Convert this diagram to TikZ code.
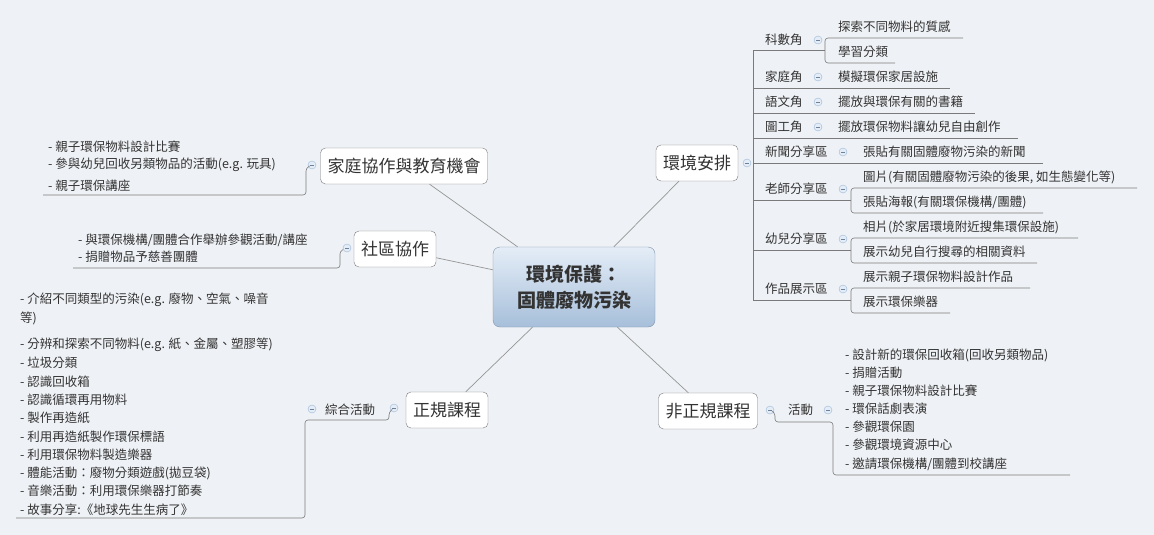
\documentclass[tikz,border=0pt]{standalone}
\usepackage{fontspec}
\setmainfont{Noto Sans CJK TC}
\definecolor{bg}{HTML}{EEF1F5}
\definecolor{ln}{HTML}{7A7A7A}
\definecolor{tx}{HTML}{333333}
\definecolor{cb}{HTML}{9DB8D6}
\definecolor{cf}{HTML}{E4EDF7}
\begin{document}
\begin{tikzpicture}[x=1pt,y=-1pt,
  lf/.style={anchor=west,inner sep=0pt,text=tx,font=\fontsize{12.5}{14}\selectfont},
  mainbox/.style={draw=ln,rounded corners=5pt,fill=white,text=tx,font=\fontsize{17}{20}\selectfont,inner xsep=7pt,minimum height=36pt},
  ul/.style={draw=ln,line width=0.6pt,rounded corners=3pt},
  br/.style={draw=ln!80,line width=0.7pt},
  circ/.style={circle,draw=cb,fill=cf,minimum size=8pt,inner sep=0pt,
    path picture={\draw[cb!70!black,line width=0.6pt] ([xshift=-2pt]path picture bounding box.center) -- ([xshift=2pt]path picture bounding box.center);}}]
\fill[bg] (0,0) rectangle (1154,535);
\useasboundingbox (0,0) rectangle (1154,535);
% center
\node[draw=cb!80!black,rounded corners=7pt,top color=cf,bottom color=cb!90,minimum width=162pt,minimum height=80pt,align=center,text=tx,font=\fontsize{19}{26}\selectfont\bfseries] (C) at (574,287) {環境保護：\\固體廢物污染};
% main nodes
\node[mainbox] (ENV) at (697,163) {環境安排};
\node[mainbox] (FAM) at (404,166) {家庭協作與教育機會};
\node[mainbox] (COM) at (395,249) {社區協作};
\node[mainbox] (FOR) at (447,410) {正規課程};
\node[mainbox] (INF) at (708,411) {非正規課程};
\foreach \m in {ENV,FAM,COM,FOR,INF} \draw[br] (C) -- (\m);
% ---------------- right top
\node[circ] (cENV) at (747,163) {};
\draw[ul] (753,50) -- (753,300);
\foreach \t/\y/\cx/\n in {科數角/40/818/k1,家庭角/77/818/k2,語文角/102/818/k3,圖工角/127/818/k4,新聞分享區/152/843/k5,老師分享區/189/843/k6,幼兒分享區/239/843/k7,作品展示區/289/843/k8}{
  \node[lf] (\n) at (765,\y) {\t};
  \node[circ] (c\n) at (\cx,\y) {};
}
% single leaves
\node[lf] (l2) at (838,77) {模擬環保家居設施};
\node[lf] (l3) at (838,102) {擺放與環保有關的書籍};
\node[lf] (l4) at (838,127) {擺放環保物料讓幼兒自由創作};
\node[lf] (l5) at (863,152) {張貼有關固體廢物污染的新聞};
\draw[ul] (753,88) -- (950,88);
\draw[ul] (753,113) -- (975,113);
\draw[ul] (753,138) -- (1018,138);
\draw[ul] (753,163) -- (1043,163);
% multi leaves
\node[lf] (l1a) at (838,27) {探索不同物料的質感};
\node[lf] (l1b) at (838,52) {學習分類};
\draw[ul] (753,50) -- (825,50);
\draw[ul] (963,38) -- (825,38) -- (825,63) -- (895,63);
\node[lf] (l6a) at (863,177) {圖片(有關固體廢物污染的後果, 如生態變化等)};
\node[lf] (l6b) at (863,202) {張貼海報(有關環保機構/團體)};
\draw[ul] (753,200) -- (851,200);
\draw[ul] (1137,188) -- (851,188) -- (851,213) -- (1043,213);
\node[lf] (l7a) at (863,227) {相片(於家居環境附近搜集環保設施)};
\node[lf] (l7b) at (863,252) {展示幼兒自行搜尋的相關資料};
\draw[ul] (753,250) -- (851,250);
\draw[ul] (1078,238) -- (851,238) -- (851,263) -- (1037,263);
\node[lf] (l8a) at (863,277) {展示親子環保物料設計作品};
\node[lf] (l8b) at (863,302) {展示環保樂器};
\draw[ul] (753,300) -- (851,300);
\draw[ul] (1030,288) -- (851,288) -- (851,313) -- (950,313);
% ---------------- family
\node[circ] (cFAM) at (312,165) {};
\node[lf] (f1) at (48,147) {- 親子環保物料設計比賽};
\node[lf] (f2) at (48,165) {- 參與幼兒回收另類物品的活動(e.g. 玩具)};
\node[lf] (f3) at (48,186) {- 親子環保講座};
\draw[ul] (43,195) -- (306,195) -- (306,168) -- (cFAM);
% ---------------- community
\node[circ] (cCOM) at (347,248) {};
\node[lf] (s1) at (78,240) {- 與環保機構/團體合作舉辦參觀活動/講座};
\node[lf] (s2) at (78,257) {- 捐贈物品予慈善團體};
\draw[ul] (73,268) -- (340,268) -- (340,251) -- (cCOM);
% ---------------- formal
\node[circ] (cFOR) at (394,408) {};
\node[lf] (zh) at (325,410) {綜合活動};
\node[circ] (czh) at (312,409) {};
\draw[ul] (cFOR) -- (389,412) -- (389,420) -- (305,420) -- (305,518) -- (16,518);
\foreach \t/\y in {{- 介紹不同類型的污染(e.g. 廢物、空氣、噪音}/300,{等)}/318,{- 分辨和探索不同物料(e.g. 紙、金屬、塑膠等)}/345,{- 垃圾分類}/363,{- 認識回收箱}/382,{- 認識循環再用物料}/400,{- 製作再造紙}/418,{- 利用再造紙製作環保標語}/437,{- 利用環保物料製造樂器}/455,{- 體能活動：廢物分類遊戲(拋豆袋)}/473,{- 音樂活動：利用環保樂器打節奏}/491,{- 故事分享:《地球先生生病了》}/510}
  \node[lf] at (20,\y) {\t};
% ---------------- informal
\node[circ] (cINF) at (770,410) {};
\node[lf] (hd) at (788,410) {活動};
\node[circ] (chd) at (828,410) {};
\draw[ul] (cINF) -- (775,413) -- (775,422) -- (833,422) -- (833,475) -- (1070,475);
\foreach \t/\y in {{- 設計新的環保回收箱(回收另類物品)}/355,{- 捐贈活動}/373,{- 親子環保物料設計比賽}/391,{- 環保話劇表演}/409,{- 參觀環保園}/427,{- 參觀環境資源中心}/445,{- 邀請環保機構/團體到校講座}/464}
  \node[lf] at (845,\y) {\t};
\end{tikzpicture}
\end{document}
